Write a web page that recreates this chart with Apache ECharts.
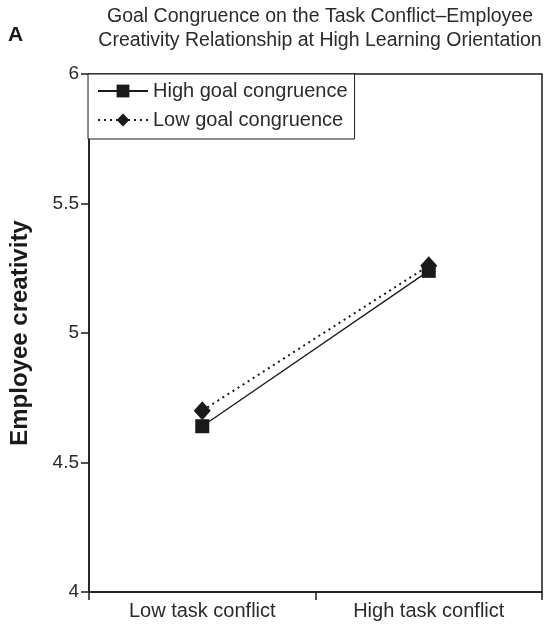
<!DOCTYPE html>
<html>
<head>
<meta charset="utf-8">
<script src="https://cdn.jsdelivr.net/npm/echarts@6/dist/echarts.min.js"></script>
<style>
  html, body { margin: 0; padding: 0; background: #fff; }
  #chart { width: 548px; height: 626px; }
</style>
</head>
<body>
<div id="chart"></div>
<script>
  // categories on the x axis
  const categories = ['Low task conflict', 'High task conflict']
  // employee creativity
  const highGoal = [4.64, 5.24]
  const lowGoal = [4.70, 5.26]
  const seriesNames = ['High goal congruence', 'Low goal congruence']
  const titleLines = ['Goal Congruence on the Task Conflict\u2013Employee', 'Creativity Relationship at High Learning Orientation']

  const font = 'Liberation Sans, Arial, sans-serif'
  const ink = '#1a1a1a'
  const txt = '#2b2b2b'

  const chart = echarts.init(document.getElementById('chart'))
  const option = {
    animation: false,
    backgroundColor: '#fff',
    textStyle: { fontFamily: font, color: txt },
    title: [
      {
        text: 'A',
        left: 3,
        top: 20,
        textStyle: { fontFamily: font, fontSize: 21, fontWeight: 'bold', color: ink }
      },
      {
        text: titleLines.join('\n'),
        left: 315,
        top: 0,
        textAlign: 'center',
        textStyle: { fontFamily: font, fontSize: 19.5, fontWeight: 'normal', color: txt, lineHeight: 24 }
      }
    ],
    legend: {
      orient: 'vertical',
      left: 88,
      top: 74,
      padding: [7, 7, 9, 9],
      itemGap: 9,
      itemWidth: 50,
      itemHeight: 16,
      borderColor: ink,
      borderWidth: 1,
      backgroundColor: '#fff',
      textStyle: { fontFamily: font, fontSize: 20, color: txt },
      data: seriesNames
    },
    grid: {
      left: 88,
      top: 74,
      right: 6,
      bottom: 34,
      show: true,
      borderColor: ink,
      borderWidth: 1.5,
      containLabel: false
    },
    xAxis: {
      type: 'category',
      data: categories,
      boundaryGap: true,
      axisLine: { lineStyle: { color: ink, width: 1.5 } },
      axisTick: { show: true, length: 8, inside: false, lineStyle: { color: ink, width: 1.5 } },
      axisLabel: { fontFamily: font, fontSize: 20, color: txt, margin: 9 },
      splitLine: { show: false }
    },
    yAxis: {
      type: 'value',
      min: 4,
      max: 6,
      interval: 0.5,
      name: 'Employee creativity',
      nameLocation: 'middle',
      nameGap: 57,
      nameTextStyle: { fontFamily: font, fontSize: 24, fontWeight: 'bold', color: ink },
      axisLine: { show: true, lineStyle: { color: ink, width: 1.5 } },
      axisTick: { show: true, length: 8, inside: false, lineStyle: { color: ink, width: 1.5 } },
      axisLabel: { fontFamily: font, fontSize: 19, color: txt, margin: 10 },
      splitLine: { show: false }
    },
    series: [
      {
        name: seriesNames[0],
        type: 'line',
        data: highGoal,
        symbol: 'rect',
        symbolSize: 14,
        itemStyle: { color: ink },
        lineStyle: { color: ink, width: 1.3, type: 'solid' },
        z: 2
      },
      {
        name: seriesNames[1],
        type: 'line',
        data: lowGoal,
        symbol: 'diamond',
        symbolSize: [17, 19],
        itemStyle: { color: ink },
        lineStyle: { color: ink, width: 2, type: [2, 4] },
        z: 3
      }
    ]
  }
  chart.setOption(option)
</script>
</body>
</html>
